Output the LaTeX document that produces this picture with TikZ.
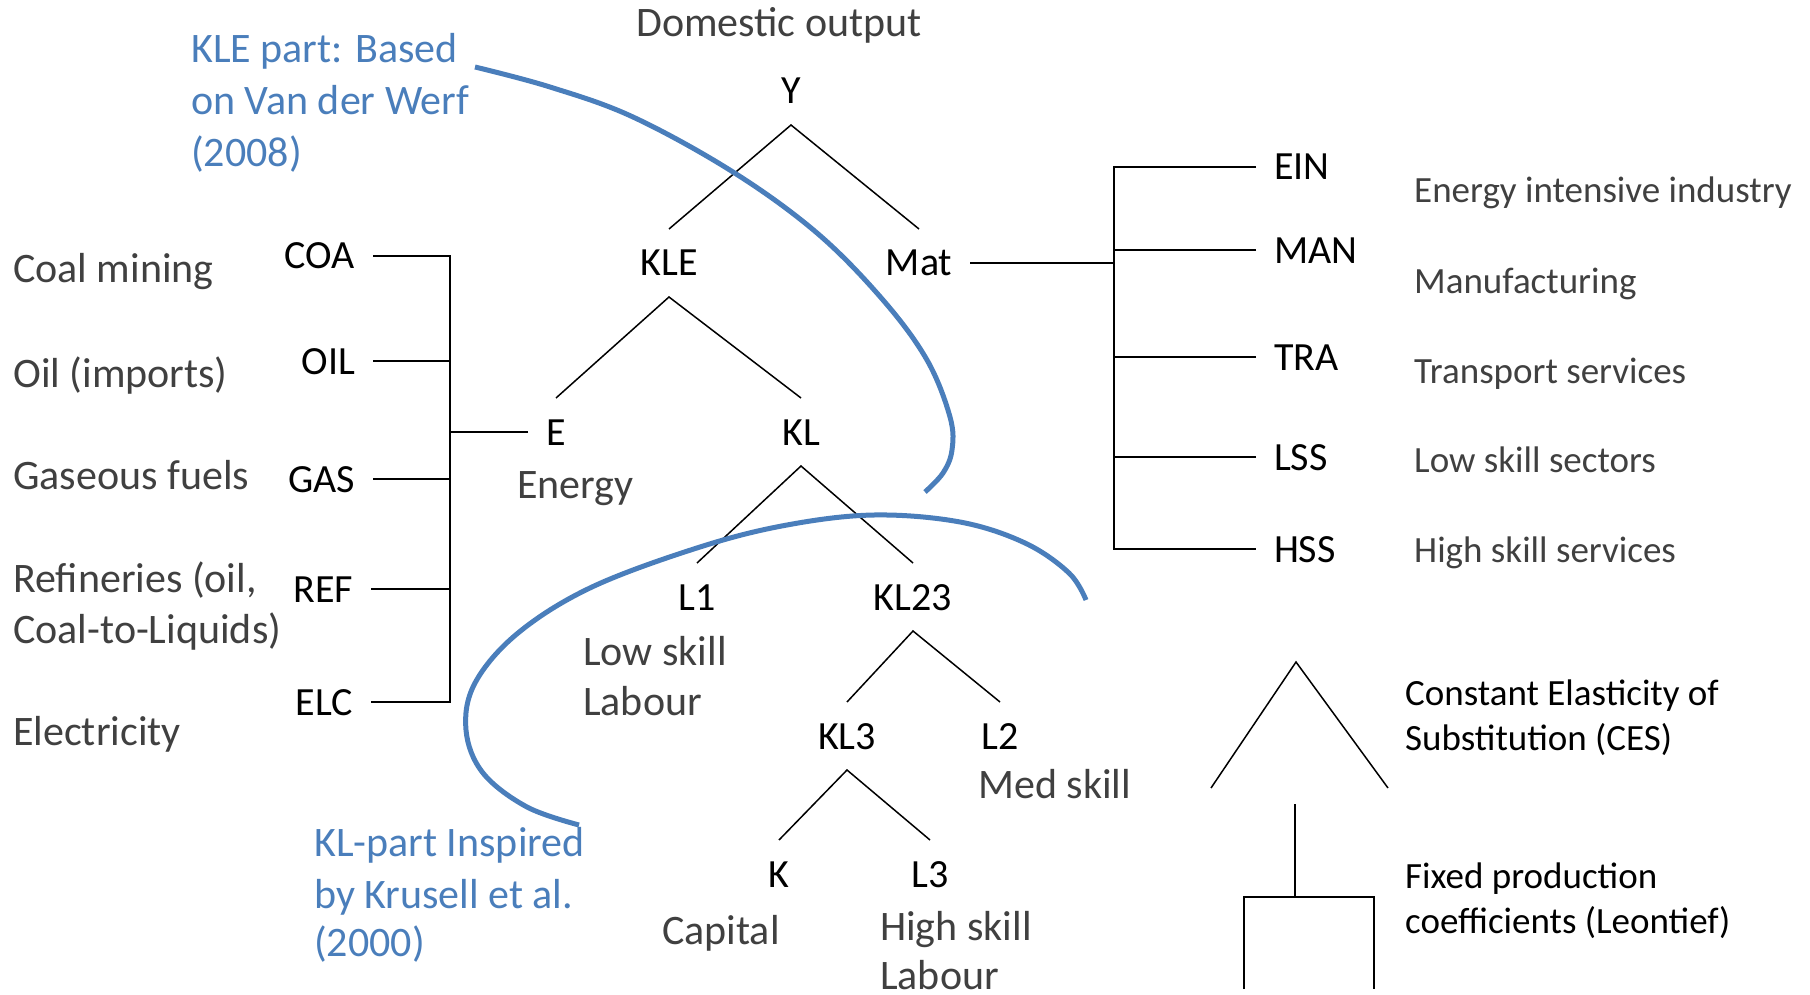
\documentclass[tikz,border=0pt]{standalone}
\usepackage{fontspec}
\setmainfont{Carlito}
\definecolor{annblue}{RGB}{74,126,187}
\definecolor{descgray}{RGB}{64,64,64}
\tikzset{
  lbl/.style={font=\fontsize{40}{48}\selectfont, text height=26pt, text depth=0pt, inner sep=0pt, outer xsep=18pt, outer ysep=21pt},
  descl/.style={font=\fontsize{42}{50}\selectfont, text=descgray, inner sep=0pt, anchor=base west},
  descr/.style={font=\fontsize{37}{44}\selectfont, text=descgray, inner sep=0pt, anchor=base west},
  legtxt/.style={font=\fontsize{37}{44}\selectfont, text=black, inner sep=0pt, anchor=base west},
  ann/.style={font=\fontsize{42}{50}\selectfont, text=annblue, inner sep=0pt, anchor=base west},
  tree/.style={line width=1.5pt},
  brk/.style={line width=2pt},
  arcline/.style={draw=annblue, line width=5pt},
}
\begin{document}
\begin{tikzpicture}[x=1pt,y=-1pt]
\useasboundingbox (0,0) rectangle (1810,995);

% title
\node[descl] (dom) at (636,37) {Domestic output};

% tree nodes
\node[lbl, anchor=base] (Y) at (791,104) {Y};
\node[lbl, anchor=base] (KLE) at (669,276) {KLE};
\node[lbl, anchor=base] (Mat) at (919,276) {Mat};
\node[lbl, anchor=base] (E) at (556,445) {E};
\node[lbl, anchor=base] (KL) at (801,445) {KL};
\node[lbl, anchor=base] (L1) at (697,610) {L1};
\node[lbl, anchor=base] (KL23) at (913,610) {KL23};
\node[lbl, anchor=base] (KL3) at (847,749) {KL3};
\node[lbl, anchor=base] (L2) at (1000,749) {L2};
\node[lbl, anchor=base] (K) at (779,887) {K};
\node[lbl, anchor=base] (L3) at (930,887) {L3};

\draw[tree] (KLE.north) -- (Y.south) -- (Mat.north);
\draw[tree] (E.north) -- (KLE.south) -- (KL.north);
\draw[tree] (L1.north) -- (KL.south) -- (KL23.north);
\draw[tree] (KL3.north) -- (KL23.south) -- (L2.north);
\draw[tree] (K.north) -- (KL3.south) -- (L3.north);

% energy inputs
\node[lbl, anchor=base east] (COA) at (373,269) {COA};
\node[lbl, anchor=base east] (OIL) at (373,374) {OIL};
\node[lbl, anchor=base east] (GAS) at (373,492) {GAS};
\node[lbl, anchor=base east] (REF) at (371,602) {REF};
\node[lbl, anchor=base east] (ELC) at (371,715) {ELC};
\coordinate (eb) at (450,432);
\draw[brk] (COA.east) -- (COA.east -| eb) -- (ELC.east -| eb) -- (ELC.east);
\draw[brk] (OIL.east) -- (OIL.east -| eb);
\draw[brk] (GAS.east) -- (GAS.east -| eb);
\draw[brk] (REF.east) -- (REF.east -| eb);
\draw[brk] (E.west) -- (eb);

\node[descl] (coal) at (13,283) {Coal mining};
\node[descl] (oil) at (13,387) {Oil (imports)};
\node[descl] (gas) at (13,489) {Gaseous fuels};
\node[descl] (ref1) at (13,592) {Refineries (oil,};
\node[descl] (ref2) at (13,643) {Coal-to-Liquids)};
\node[descl] (elc) at (13,745) {Electricity};

% materials
\node[lbl, anchor=base west] (EIN) at (1256,180) {EIN};
\node[lbl, anchor=base west] (MAN) at (1256,263) {MAN};
\node[lbl, anchor=base west] (TRA) at (1256,370) {TRA};
\node[lbl, anchor=base west] (LSS) at (1256,470) {LSS};
\node[lbl, anchor=base west] (HSS) at (1256,562) {HSS};
\coordinate (mb) at (1114,262);
\draw[brk] (EIN.west) -- (EIN.west -| mb) -- (HSS.west -| mb) -- (HSS.west);
\draw[brk] (MAN.west) -- (MAN.west -| mb);
\draw[brk] (TRA.west) -- (TRA.west -| mb);
\draw[brk] (LSS.west) -- (LSS.west -| mb);
\draw[brk] (Mat.east) -- (Mat.east -| mb);

\node[descr] (ein) at (1414,203) {Energy intensive industry};
\node[descr] (man) at (1414,293) {Manufacturing};
\node[descr] (tra) at (1414,383) {Transport services};
\node[descr] (lss) at (1414,472) {Low skill sectors};
\node[descr] (hss) at (1414,562) {High skill services};

% factor descriptions
\node[descl] (energy) at (517,498) {Energy};
\node[descl] (low1) at (583,665) {Low skill};
\node[descl] (low2) at (583,715) {Labour};
\node[descl] (med) at (978,798) {Med skill};
\node[descl] (cap) at (662,944) {Capital};
\node[descl] (high1) at (880,940) {High skill};
\node[descl] (high2) at (880,989) {Labour};

% annotations
\node[ann] (a1) at (191,63) {KLE part: Based};
\node[ann] (a2) at (191,115) {on Van der Werf};
\node[ann] (a3) at (191,167) {(2008)};
\node[ann] (b1) at (314,856) {KL-part Inspired};
\node[ann] (b2) at (314,908) {by Krusell et al.};
\node[ann] (b3) at (314,956) {(2000)};

\draw[arcline, line cap=butt] plot[smooth, tension=0.6] coordinates {(475,67) (550,87) (633,117) (733,172) (817,233) (883,300) (927,360) (950,417) (952,450) (943,473) (925,492)};
\draw[arcline, line cap=butt] plot[smooth, tension=0.6] coordinates {(579,825) (527,807) (483,773) (466,730) (475,683) (518,633) (592,587) (700,547) (787,525) (874,515) (960,522) (1025,543) (1069,573) (1086,600)};

% legend
\coordinate (cesl) at (1211,788);
\coordinate (cest) at (1296,662);
\coordinate (cesr) at (1388,788);
\draw[tree] (cesl) -- (cest) -- (cesr);
\coordinate (leot) at (1295,804);
\coordinate (leom) at (1295,897);
\coordinate (leol) at (1244,989);
\coordinate (leor) at (1374,989);
\draw[brk] (leot) -- (leom);
\draw[brk] (leol) |- (leom) -| (leor);
\node[legtxt] (ces1) at (1405,705) {Constant Elasticity of};
\node[legtxt] (ces2) at (1405,750) {Substitution (CES)};
\node[legtxt] (leo1) at (1405,888) {Fixed production};
\node[legtxt] (leo2) at (1405,933) {coefficients (Leontief)};
\end{tikzpicture}
\end{document}
